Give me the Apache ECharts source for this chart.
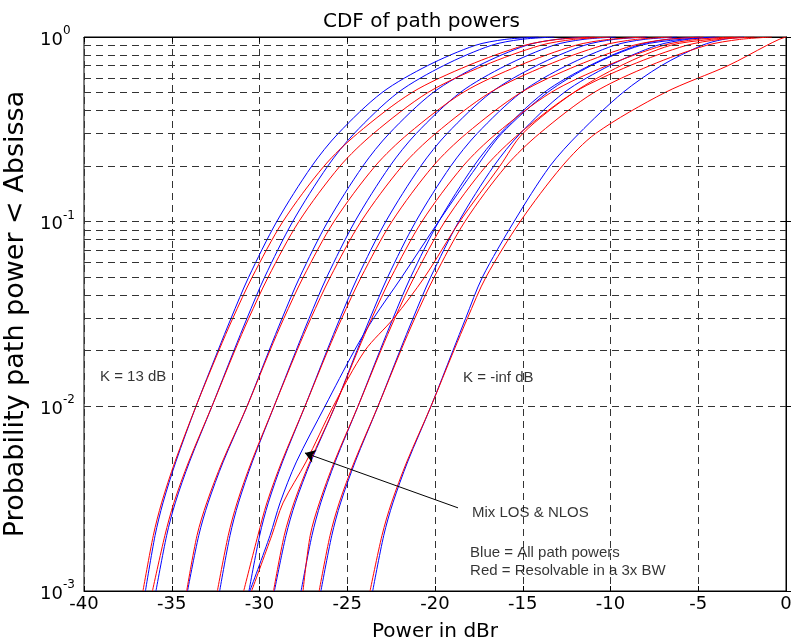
<!DOCTYPE html>
<html><head><meta charset="utf-8">
<script src="https://cdn.jsdelivr.net/npm/echarts@6/dist/echarts.min.js"></script>
<style>html,body{margin:0;padding:0;background:#fff}#c{width:794px;height:644px}</style>
</head><body><div id="c"></div>
<script>
// probability levels at which each CDF curve was read (y values)
const levels = [0.001, 0.002, 0.003, 0.005, 0.01, 0.02, 0.03, 0.05, 0.1, 0.2, 0.3, 0.5, 0.7, 0.9, 0.97, 1];

// power in dBr (x values) for each curve at the levels above
const blueA = [-36.50,-35.95,-35.50,-34.77,-33.62,-32.37,-31.62,-30.62,-29.02,-27.02,-25.52,-23.02,-20.42,-17.72,-16.02,-14.1];
const redA  = [-36.64,-36.05,-35.58,-34.82,-33.62,-32.32,-31.52,-30.42,-28.67,-26.32,-24.42,-21.32,-18.12,-14.92,-13.02,-10.9];
const blueB = [-35.90,-35.29,-34.80,-33.99,-32.71,-31.46,-30.71,-29.71,-28.11,-26.11,-24.61,-22.11,-19.51,-16.81,-15.11,-13.2];
const redB  = [-36.10,-35.39,-34.88,-34.04,-32.71,-31.41,-30.61,-29.51,-27.76,-25.41,-23.51,-20.41,-17.21,-14.01,-12.11,-10.0];
const blueC = [-34.10,-33.46,-32.93,-32.07,-30.71,-29.46,-28.71,-27.71,-26.11,-24.11,-22.61,-20.11,-17.51,-14.81,-13.11,-11.2];
const redC  = [-34.15,-33.56,-33.01,-32.12,-30.71,-29.41,-28.61,-27.51,-25.76,-23.41,-21.51,-18.41,-15.21,-12.01,-10.11,-8.0];
const blueD = [-32.27,-31.68,-31.20,-30.41,-29.17,-27.92,-27.17,-26.17,-24.57,-22.57,-21.07,-18.57,-15.97,-13.27,-11.57,-9.7];
const redD  = [-32.40,-31.78,-31.28,-30.46,-29.17,-27.87,-27.07,-25.97,-24.22,-21.87,-19.97,-16.87,-13.67,-10.47,-8.57,-6.5];
const blueE = [-30.60,-29.99,-29.50,-28.69,-27.41,-26.16,-25.41,-24.41,-22.81,-20.81,-19.31,-16.81,-14.21,-11.51,-9.81,-7.9];
const redE  = [-30.90,-30.09,-29.58,-28.74,-27.41,-26.11,-25.31,-24.21,-22.46,-20.11,-18.21,-15.11,-11.91,-8.71,-6.81,-4.7];
const blueMix = [-30.55,-29.40,-28.83,-27.90,-26.27,-24.60,-23.50,-21.90,-19.80,-17.60,-16.20,-13.60,-11.10,-8.30,-6.04,-4.05];
const redMix  = [-30.45,-29.30,-28.66,-27.35,-25.80,-24.00,-22.35,-20.60,-18.60,-16.30,-15.00,-12.10,-9.40,-6.60,-4.33,-2.6];
const blueG = [-29.15,-28.49,-27.96,-27.08,-25.70,-24.45,-23.70,-22.70,-21.10,-19.10,-17.60,-15.10,-12.50,-9.80,-8.10,-6.2];
const redG  = [-29.20,-28.59,-28.04,-27.13,-25.70,-24.40,-23.60,-22.50,-20.75,-18.40,-16.50,-13.40,-10.20,-7.00,-5.10,-3.0];
const blueH = [-27.63,-27.01,-26.51,-25.69,-24.39,-23.14,-22.39,-21.39,-19.79,-17.79,-16.29,-13.79,-11.19,-8.49,-6.79,-4.9];
const redH  = [-27.52,-27.11,-26.59,-25.74,-24.39,-23.09,-22.29,-21.19,-19.44,-17.09,-15.19,-12.09,-8.89,-5.69,-3.79,-1.8];
const blueI = [-26.50,-25.88,-25.38,-24.55,-23.25,-22.00,-21.25,-20.25,-18.65,-16.65,-15.15,-12.65,-10.05,-7.35,-5.65,-3.8];
const redI  = [-26.60,-25.98,-25.46,-24.60,-23.25,-21.95,-21.15,-20.05,-18.30,-15.95,-14.05,-10.95,-7.75,-4.55,-2.65,-0.8];
const blueJ = [-23.55,-22.92,-22.40,-21.56,-20.23,-18.98,-18.25,-17.30,-15.50,-13.45,-11.80,-9.30,-7.10,-4.80,-3.60,-2.4];
const redJ  = [-23.70,-23.02,-22.48,-21.61,-20.23,-18.93,-18.15,-17.10,-15.15,-12.75,-10.85,-6.90,-3.30,-1.10,-0.40,0];

const blueCurves = [blueA, blueB, blueC, blueD, blueE, blueMix, blueG, blueH, blueI, blueJ];
const redCurves  = [redA, redB, redC, redD, redE, redMix, redG, redH, redI, redJ];

// axis ticks and grid
const xMin = -40, xMax = 0, xStep = 5;
const yMin = 0.001, yMax = 1;
const yMinorGrid = [0.002,0.003,0.004,0.005,0.006,0.007,0.008,0.009,
                    0.02,0.03,0.04,0.05,0.06,0.07,0.08,0.09,
                    0.2,0.3,0.4,0.5,0.6,0.7,0.8,0.9];

// annotations: [x, y, text]
const notes = [
  [-39.09, 0.0144, 'K = 13 dB'],
  [-18.40, 0.0143, 'K = -inf dB'],
  [-17.89, 0.00265, 'Mix LOS & NLOS'],
  [-18.00, 0.00161, 'Blue = All path powers'],
  [-18.00, 0.00128, 'Red = Resolvable in a 3x BW']
];
const arrowFrom = [-18.69, 0.00282];
const arrowTo = [-27.41, 0.00559];

const FONT = 'Liberation Sans';
const WFONT = 'DejaVu Sans';
const gridDash = [7, 5];
const gridColor = '#333';

const series = [];
series.push({
  type: 'line', data: [], silent: true, z: 1,
  markLine: {
    silent: true, symbol: ['none', 'none'], label: {show: false}, animation: false,
    lineStyle: {color: gridColor, type: gridDash, width: 1},
    data: yMinorGrid.map(v => ({yAxis: v}))
  }
});
blueCurves.forEach(c => series.push({
  type: 'line', data: c.map((x, k) => [x, levels[k]]), showSymbol: false, symbol: 'none',
  smooth: 0.3, lineStyle: {color: '#0000ff', width: 1}, z: 3, silent: true
}));
redCurves.forEach(c => series.push({
  type: 'line', data: c.map((x, k) => [x, levels[k]]), showSymbol: false, symbol: 'none',
  smooth: 0.3, lineStyle: {color: '#ff0000', width: 1}, z: 4, silent: true
}));
series.push({
  type: 'scatter', symbolSize: 0, z: 6, silent: true,
  data: notes.map(n => ({value: [n[0], n[1]], name: n[2]})),
  label: {show: true, position: 'right', distance: 0, formatter: p => p.name,
          color: '#000', fontFamily: FONT, fontSize: 15},
  markLine: {
    silent: true, animation: false, symbol: ['none', 'arrow'], symbolSize: 10,
    label: {show: false}, lineStyle: {color: '#000', width: 1, type: 'solid'},
    data: [[{coord: arrowFrom}, {coord: arrowTo}]]
  }
});

const chart = echarts.init(document.getElementById('c'), null, {renderer: 'canvas'});
chart.setOption({
  animation: false,
  backgroundColor: '#fff',
  title: {text: 'CDF of path powers', left: 318, top: 7,
          textStyle: {fontFamily: WFONT, fontSize: 20, fontWeight: 'normal', color: '#000'}},
  grid: {left: 84, top: 37, width: 702, height: 554, containLabel: false, outerBoundsMode: 'none',
         show: true, borderColor: '#000', borderWidth: 1, backgroundColor: '#fff'},
  xAxis: [{
    type: 'value', min: xMin, max: xMax, interval: xStep,
    name: 'Power in dBr', nameLocation: 'middle', nameGap: 31,
    nameTextStyle: {fontFamily: WFONT, fontSize: 20, color: '#000'},
    axisLine: {lineStyle: {color: '#000'}},
    axisTick: {inside: true, length: 5, lineStyle: {color: '#000'}},
    axisLabel: {margin: 4, fontFamily: WFONT, fontSize: 18, color: '#000'},
    splitLine: {show: true, lineStyle: {color: gridColor, type: gridDash, width: 1}}
  }, {
    type: 'value', min: xMin, max: xMax, interval: xStep, position: 'top',
    axisLine: {lineStyle: {color: '#000'}}, axisTick: {inside: true, length: 5, lineStyle: {color: '#000'}},
    axisLabel: {show: false}, splitLine: {show: false}
  }],
  yAxis: [{
    type: 'log', logBase: 10, min: yMin, max: yMax,
    name: 'Probability path power < Absissa', nameLocation: 'middle', nameGap: 54, nameRotate: 90,
    nameTextStyle: {fontFamily: WFONT, fontSize: 27, color: '#000'},
    axisLine: {lineStyle: {color: '#000'}},
    axisTick: {inside: true, length: 5, lineStyle: {color: '#000'}},
    axisLabel: {
      margin: 44, align: 'left', color: '#000',
      formatter: v => '{b|10}{e|' + Math.round(Math.log10(v)) + '}',
      rich: {
        b: {fontFamily: WFONT, fontSize: 18, color: '#000', verticalAlign: 'bottom', lineHeight: 24},
        e: {fontFamily: WFONT, fontSize: 12, color: '#000', verticalAlign: 'top', lineHeight: 24, padding: [0, 0, 8, 0]}
      }
    },
    splitLine: {show: true, lineStyle: {color: gridColor, type: gridDash, width: 1}}
  }, {
    type: 'log', logBase: 10, min: yMin, max: yMax, position: 'right',
    axisLine: {lineStyle: {color: '#000'}}, axisTick: {inside: true, length: 5, lineStyle: {color: '#000'}},
    axisLabel: {show: false}, splitLine: {show: false}
  }],
  series: series
});
</script>
</body></html>
